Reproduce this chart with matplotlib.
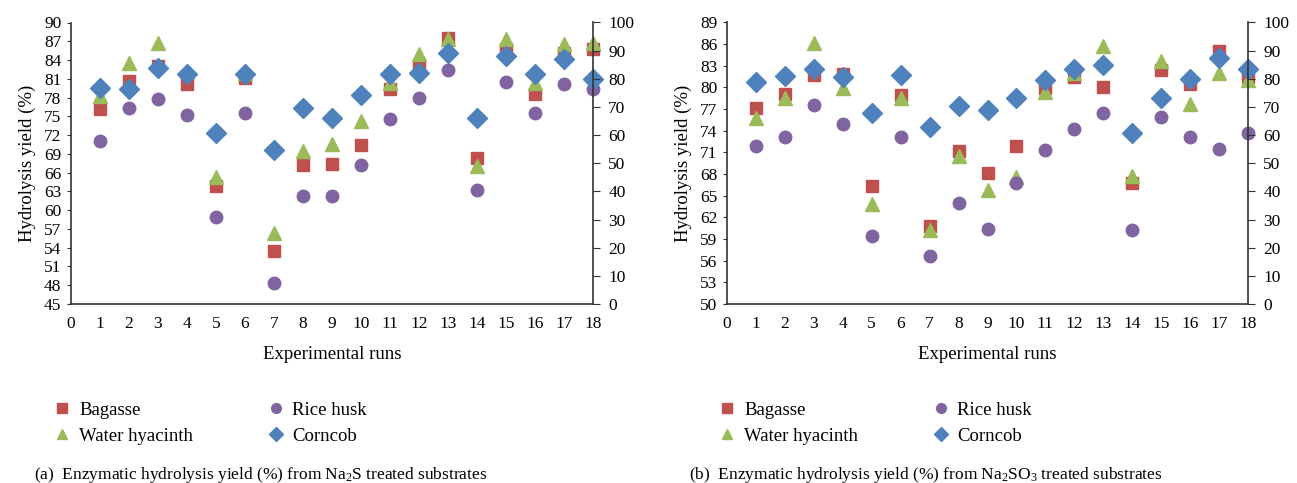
import matplotlib
matplotlib.use("Agg")
import matplotlib.pyplot as plt
from matplotlib.lines import Line2D

plt.rcParams['font.family'] = ['Liberation Serif', 'DejaVu Serif']
plt.rcParams['mathtext.default'] = 'regular'

runs = list(range(1, 19))

# (a) Na2S treated substrates
a_bagasse = [76.1, 80.6, 83.0, 80.2, 63.8, 81.2, 53.5, 67.3, 67.4, 70.4, 79.4, 83.2, 87.5, 68.3, 85.7, 78.5, 85.1, 85.7]
a_hyacinth = [78.3, 83.5, 86.7, 82.1, 65.3, 81.9, 56.4, 69.5, 70.5, 74.2, 80.4, 84.9, 87.4, 67.1, 87.3, 80.4, 86.6, 86.8]
a_rice = [71.0, 76.4, 77.8, 75.2, 58.9, 75.5, 48.4, 62.3, 62.3, 67.3, 74.5, 78.0, 82.4, 63.3, 80.5, 75.5, 80.1, 79.4]
a_corncob = [79.5, 79.3, 82.7, 81.8, 72.4, 81.8, 69.6, 76.3, 74.7, 78.4, 81.7, 82.0, 85.1, 74.7, 84.6, 81.7, 84.2, 81.0]

# (b) Na2SO3 treated substrates
b_bagasse = [77.2, 79.1, 81.7, 81.9, 66.4, 79.0, 60.8, 71.2, 68.2, 71.9, 79.9, 81.4, 80.0, 66.7, 82.4, 80.5, 85.0, 81.4]
b_hyacinth = [75.7, 78.5, 86.1, 79.9, 63.8, 78.5, 60.2, 70.5, 65.8, 67.6, 79.4, 82.0, 85.8, 67.7, 83.7, 77.7, 82.0, 81.0]
b_rice = [71.9, 73.2, 77.6, 75.0, 59.4, 73.2, 56.6, 64.0, 60.4, 66.7, 71.4, 74.2, 76.4, 60.2, 75.9, 73.2, 71.5, 73.7]
b_corncob = [80.7, 81.6, 82.6, 81.5, 76.4, 81.7, 74.5, 77.4, 76.9, 78.6, 81.0, 82.6, 83.1, 73.7, 78.6, 81.2, 84.1, 82.5]

names = ['Bagasse', 'Water hyacinth', 'Rice husk', 'Corncob']
colors = ['#C0504D', '#9BBB59', '#8064A2', '#4F81BD']
markers = ['s', '^', 'o', 'D']
sizes = [9, 10, 9, 10]

captions = [r'(a)  Enzymatic hydrolysis yield (%) from Na$_2$S treated substrates',
            r'(b)  Enzymatic hydrolysis yield (%) from Na$_2$SO$_3$ treated substrates']

fig = plt.figure(figsize=(12.97, 4.83), dpi=100)
W, H = 1297.0, 483.0

panels = [
    dict(left=71, right=593, series=[a_bagasse, a_hyacinth, a_rice, a_corncob],
         ylim=(45, 90), yticks=range(45, 91, 3), cap_x=261, leg_x=36),
    dict(left=727, right=1248, series=[b_bagasse, b_hyacinth, b_rice, b_corncob],
         ylim=(50, 89), yticks=range(50, 90, 3), cap_x=926, leg_x=701),
]
top, bottom = 22.5, 304

for i, p in enumerate(panels):
    ax = fig.add_axes([p['left'] / W, 1 - bottom / H, (p['right'] - p['left']) / W, (bottom - top) / H])
    for vals, name, c, m, ms in zip(p['series'], names, colors, markers, sizes):
        ax.plot(runs, vals, linestyle='none', marker=m, markersize=ms, color=c,
                markeredgecolor=c, label=name, clip_on=False, zorder=3)
    ax.set_xlim(0, 18)
    ax.set_ylim(*p['ylim'])
    ax.set_xticks(range(0, 19))
    ax.set_yticks(list(p['yticks']))
    ax.tick_params(axis='x', length=0, pad=9, labelsize=12.5)
    ax.tick_params(axis='y', direction='out', length=3, pad=4, labelsize=12.5, color='#333333')
    for s in ['top', 'right']:
        ax.spines[s].set_visible(False)
    for s in ['left', 'bottom']:
        ax.spines[s].set_color('#333333')
        ax.spines[s].set_linewidth(1.2)
    ax.set_xlabel('Experimental runs', fontsize=13.5, labelpad=10)
    ax.set_ylabel('Hydrolysis yield (%)', fontsize=13.5, labelpad=6)

    ax2 = ax.twinx()
    ax2.set_ylim(0, 100)
    ax2.set_yticks(range(0, 101, 10))
    ax2.tick_params(axis='y', direction='out', length=5, pad=6, labelsize=12.5, color='#333333')
    for s in ['top', 'left', 'bottom']:
        ax2.spines[s].set_visible(False)
    ax2.spines['right'].set_color('#333333')
    ax2.spines['right'].set_linewidth(1.2)

    handles = [Line2D([], [], linestyle='none', marker=m, markersize=7, color=c)
               for m, c in zip(markers, colors)]
    fig.legend(handles, names, loc='upper left', bbox_to_anchor=(p['leg_x'] / W, 1 - 385 / H),
               ncol=2, frameon=False, fontsize=13.5, columnspacing=3.9, handletextpad=0.4,
               labelspacing=0.45, handlelength=1.0)
    fig.text(p['cap_x'] / W, 1 - 475 / H, captions[i], ha='center', va='center', fontsize=12.5)

fig.savefig('out.png', dpi=100)
